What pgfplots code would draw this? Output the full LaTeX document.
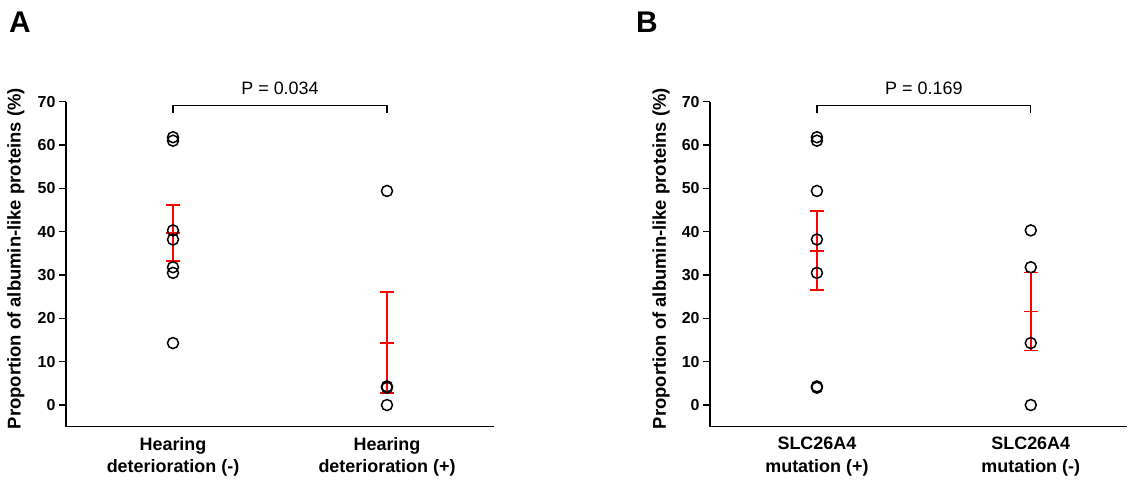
\documentclass[border=0pt]{standalone}
\usepackage{fontspec}
\setmainfont{Liberation Sans}
\usepackage{pgfplots}
\pgfplotsset{compat=1.18}

\pgfplotsset{
  albstyle/.style={
    scale only axis, width=428bp, height=325bp,
    xmin=0.5, xmax=2.5, ymin=-5, ymax=70,
    axis x line=bottom, axis y line=left,
    axis line style={-, line width=1.5bp},
    xtick={1,2}, ytick={0,10,...,70},
    tick align=outside, major tick length=7bp,
    tick style={line width=1.5bp, black},
    xtick style={draw=none},
    /pgf/number format/assume math mode=true,
    yticklabel style={font=\fontsize{16}{19}\selectfont\bfseries},
    xticklabel style={font=\fontsize{18}{22.7}\selectfont\bfseries, align=center},
    ylabel={Proportion of albumin-like proteins (\%)},
    ylabel style={font=\fontsize{18.5}{22}\selectfont\bfseries,
      at={(axis description cs:-0.117,0.517)}, anchor=center},
    clip=false,
  },
  pts/.style={only marks, mark=o, mark size=5.5bp,
    mark options={line width=1.5bp, black}},
  errs/.style={only marks, red, mark=-, mark size=7bp,
    mark options={line width=1.8bp, red},
    error bars/.cd, y dir=both, y explicit,
    error bar style={line width=1.5bp, red},
    error mark options={rotate=90, mark size=7bp, line width=1.8bp, red}},
}

\begin{document}
\begin{tikzpicture}
\useasboundingbox (0,0) rectangle (1128bp,482bp);

% panel A
\begin{axis}[albstyle, at={(66bp,55.3bp)}, anchor=south west,
  xticklabels={Hearing\\deterioration (-), Hearing\\deterioration (+)}]
\addplot[errs] coordinates {(1,39.7) +- (0,6.4) (2,14.4) +- (0,11.7)};
\addplot[pts] coordinates {
  (1,61.8) (1,61.0) (1,40.3) (1,38.2) (1,31.8) (1,30.5) (1,14.3)
  (2,49.4) (2,4.3) (2,4.0) (2,0)};
\draw[line width=1.2bp] (axis cs:1,67.3) -- (axis cs:1,69.1) -- (axis cs:2,69.1) -- (axis cs:2,67.3);
\node[font=\fontsize{18}{18}\selectfont] at (axis cs:1.5,73.2) {P = 0.034};
\end{axis}

% panel B
\begin{axis}[albstyle, at={(710bp,55.3bp)}, anchor=south west,
  width=417bp, xmax=2.45,
  xticklabels={SLC26A4\\mutation (+), SLC26A4\\mutation (-)}]
\addplot[errs] coordinates {(1,35.6) +- (0,9.1) (2,21.6) +- (0,9.0)};
\addplot[pts] coordinates {
  (1,61.8) (1,61.0) (1,49.4) (1,38.2) (1,30.5) (1,4.3) (1,4.0)
  (2,40.3) (2,31.8) (2,14.3) (2,0)};
\draw[line width=1.2bp] (axis cs:1,67.3) -- (axis cs:1,69.1) -- (axis cs:2,69.1) -- (axis cs:2,67.3);
\node[font=\fontsize{18}{18}\selectfont] at (axis cs:1.5,73.2) {P = 0.169};
\end{axis}

\node[font=\fontsize{30}{30}\selectfont\bfseries] at (20bp,460bp) {A};
\node[font=\fontsize{30}{30}\selectfont\bfseries] at (647bp,460bp) {B};
\end{tikzpicture}
\end{document}
